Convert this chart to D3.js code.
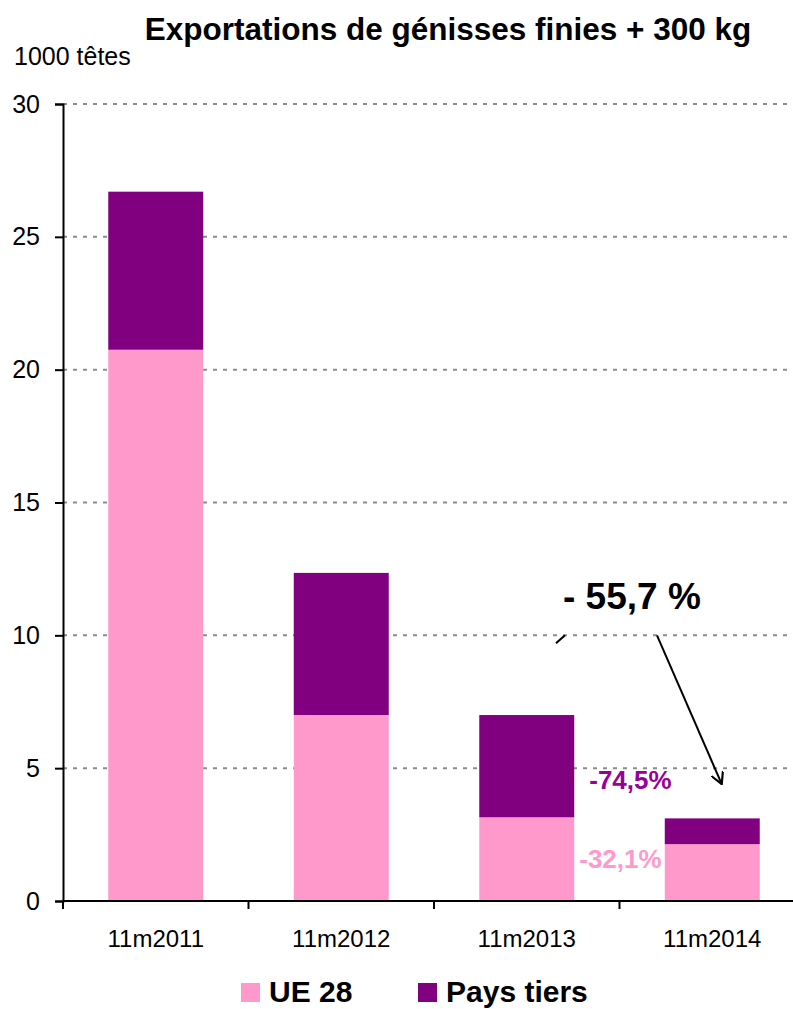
<!DOCTYPE html>
<html>
<head>
<meta charset="utf-8">
<script src="https://cdn.jsdelivr.net/npm/d3@7"></script>
<style>
  body { margin: 0; background: #fff; }
  text { font-family: "Liberation Sans", Arial, sans-serif; }
</style>
</head>
<body>
<svg id="chart" width="793" height="1009"></svg>
<script>
// données (1000 têtes)
var categories = ["11m2011", "11m2012", "11m2013", "11m2014"];
var ue28 = [20.75, 7.0, 3.15, 2.14];
var paysTiers = [5.95, 5.35, 3.85, 0.97];
var yTicks = [0, 5, 10, 15, 20, 25, 30];
var series = ["UE 28", "Pays tiers"];
var colors = ["#ff99cc", "#800080"];

var svg = d3.select("#chart");
var margin = {top: 104, right: -12, bottom: 108, left: 63},
    width = +svg.attr("width") - margin.left - margin.right,
    height = +svg.attr("height") - margin.top - margin.bottom;

var x = d3.scaleBand()
    .domain(categories)
    .range([margin.left, margin.left + width])
    .paddingInner(0.488)
    .paddingOuter(0.244);

var y = d3.scaleLinear()
    .domain([0, 30])
    .range([margin.top + height, margin.top]);

// grille pointillée
svg.append("g")
    .selectAll("line")
    .data(yTicks.filter(function(d) { return d > 0; }))
  .enter().append("line")
    .attr("x1", margin.left)
    .attr("x2", 793)
    .attr("y1", function(d) { return y(d); })
    .attr("y2", function(d) { return y(d); })
    .attr("stroke", "#8c8c8c")
    .attr("stroke-width", 2)
    .attr("stroke-dasharray", "4,6");

// empilement
var rows = categories.map(function(c, i) {
  return {cat: c, "UE 28": ue28[i], "Pays tiers": paysTiers[i]};
});
var stack = d3.stack().keys(series)(rows);

svg.append("g")
    .selectAll("g")
    .data(stack)
  .enter().append("g")
    .attr("fill", function(d, i) { return colors[i]; })
  .selectAll("rect")
    .data(function(d) { return d; })
  .enter().append("rect")
    .attr("x", function(d) { return x(d.data.cat); })
    .attr("width", x.bandwidth())
    .attr("y", function(d) { return y(d[1]); })
    .attr("height", function(d) { return y(d[0]) - y(d[1]); });

// axe Y
var yAxis = svg.append("g")
    .attr("transform", "translate(" + margin.left + ",0)")
    .call(d3.axisLeft(y).tickValues(yTicks).tickSize(8).tickPadding(15));
yAxis.select(".domain").attr("stroke-width", 2);
yAxis.selectAll(".tick line").attr("stroke-width", 2);
yAxis.selectAll(".tick text")
    .attr("font-size", 25)
    .attr("fill", "#000");

// axe X
var step = x.step();
var xAxis = svg.append("g")
    .attr("transform", "translate(0," + y(0) + ")");
xAxis.append("line")
    .attr("x1", margin.left).attr("x2", margin.left + width)
    .attr("stroke", "#000").attr("stroke-width", 2);
xAxis.selectAll("line.tk")
    .data(d3.range(categories.length + 1))
  .enter().append("line")
    .attr("class", "tk")
    .attr("x1", function(i) { return margin.left + i * step; })
    .attr("x2", function(i) { return margin.left + i * step; })
    .attr("y1", 0).attr("y2", 8)
    .attr("stroke", "#000").attr("stroke-width", 2);
xAxis.selectAll("text")
    .data(categories)
  .enter().append("text")
    .attr("x", function(d) { return x(d) + x.bandwidth() / 2; })
    .attr("y", 46)
    .attr("text-anchor", "middle")
    .attr("font-size", 24)
    .text(function(d) { return d; });

// titres
svg.append("text")
    .attr("x", 448).attr("y", 40)
    .attr("text-anchor", "middle")
    .attr("font-size", 31.5)
    .attr("font-weight", "bold")
    .text("Exportations de génisses finies + 300 kg");

svg.append("text")
    .attr("x", 14).attr("y", 65)
    .attr("font-size", 25)
    .text("1000 têtes");

// annotations
var x13 = x("11m2013") + x.bandwidth();
svg.append("text")
    .attr("x", x13 + 15).attr("y", y(4.2))
    .attr("font-size", 26).attr("font-weight", "bold")
    .attr("fill", "#990099")
    .text("-74,5%");
svg.append("text")
    .attr("x", x13 + 5).attr("y", y(1.25))
    .attr("font-size", 26).attr("font-weight", "bold")
    .attr("fill", "#ff99cc")
    .text("-32,1%");
svg.append("text")
    .attr("x", 563).attr("y", y(11.0))
    .attr("font-size", 37).attr("font-weight", "bold")
    .text("- 55,7 %");

svg.append("defs").append("marker")
    .attr("id", "fleche")
    .attr("viewBox", "0 0 12 12")
    .attr("refX", 11).attr("refY", 6)
    .attr("markerWidth", 13).attr("markerHeight", 13)
    .attr("markerUnits", "userSpaceOnUse")
    .attr("orient", "auto")
  .append("path")
    .attr("d", "M0,0 L11,6 L0,12")
    .attr("fill", "none")
    .attr("stroke", "#000")
    .attr("stroke-width", 2);

var xArrow = x("11m2014") + x.bandwidth() * 0.6;
svg.append("line")
    .attr("x1", 657).attr("y1", y(10.0))
    .attr("x2", xArrow).attr("y2", y(4.4))
    .attr("stroke", "#000").attr("stroke-width", 2)
    .attr("marker-end", "url(#fleche)");
svg.append("line")
    .attr("x1", 556).attr("y1", y(9.7))
    .attr("x2", 565).attr("y2", y(10.0))
    .attr("stroke", "#000").attr("stroke-width", 2);

// légende
var legend = svg.append("g")
    .selectAll("g")
    .data(series)
  .enter().append("g")
    .attr("transform", function(d, i) { return "translate(" + [241, 418][i] + ",983)"; });
legend.append("rect")
    .attr("width", 19).attr("height", 19)
    .attr("fill", function(d, i) { return colors[i]; });
legend.append("text")
    .attr("x", 28).attr("y", 19)
    .attr("font-size", 30).attr("font-weight", "bold")
    .text(function(d) { return d; });
</script>
</body>
</html>
